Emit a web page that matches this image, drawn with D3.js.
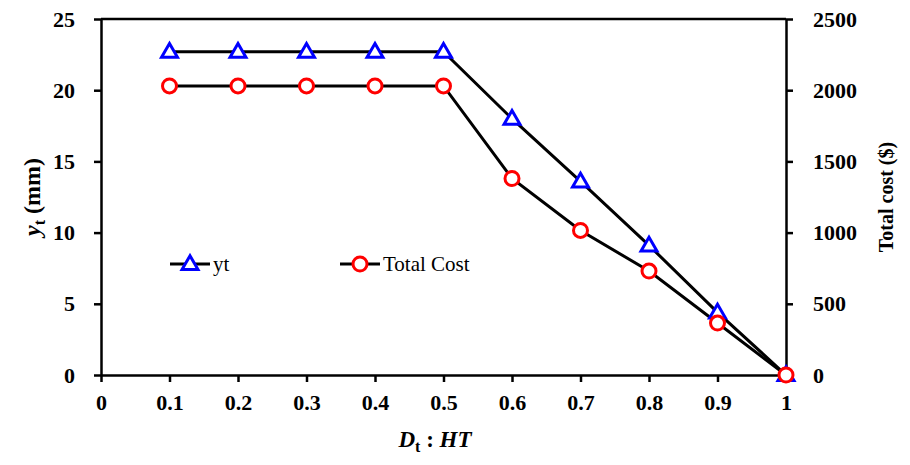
<!DOCTYPE html>
<html>
<head>
<meta charset="utf-8">
<script src="https://cdn.jsdelivr.net/npm/d3@7"></script>
<style>
body { margin: 0; background: #fff; }
svg text { font-family: "Liberation Serif", "Times New Roman", serif !important; }
</style>
</head>
<body>
<svg width="910" height="465"></svg>
<script>
var ratio = [0.1, 0.2, 0.3, 0.4, 0.5, 0.6, 0.7, 0.8, 0.9, 1];
var yt = [22.7, 22.7, 22.7, 22.7, 22.7, 18.0, 13.6, 9.1, 4.4, 0];
var totalCost = [2030, 2030, 2030, 2030, 2030, 1380, 1015, 730, 365, 0];
var xTicks = [0, 0.1, 0.2, 0.3, 0.4, 0.5, 0.6, 0.7, 0.8, 0.9, 1];
var yTicks = [0, 5, 10, 15, 20, 25];
var costTicks = [0, 500, 1000, 1500, 2000, 2500];

var svg = d3.select('svg');
var plotLeft = 101, plotRight = 786, plotTop = 19, plotBottom = 375;

var x = d3.scaleLinear().domain([0, 1]).range([plotLeft, plotRight]);
var y = d3.scaleLinear().domain([0, 25]).range([plotBottom, plotTop]);
var y2 = d3.scaleLinear().domain([0, 2500]).range([plotBottom, plotTop]);

function styleAxis(g) {
    g.attr('font-family', '"Liberation Serif", serif');
    g.selectAll('path, line').attr('stroke', '#000').attr('stroke-width', 2.5);
    g.selectAll('text').attr('font-size', 22).attr('font-weight', 'bold').attr('fill', '#000')
        .style('font-family', '"Liberation Serif", serif');
}

svg.append('g').attr('transform', 'translate(0,' + plotBottom + ')')
    .call(d3.axisBottom(x).tickValues(xTicks).tickFormat(d3.format('')).tickSize(7).tickSizeOuter(0).tickPadding(12))
    .call(styleAxis);
svg.append('g').attr('transform', 'translate(' + plotLeft + ',0)')
    .call(d3.axisLeft(y).tickValues(yTicks).tickSize(7).tickSizeOuter(0).tickPadding(19))
    .call(styleAxis);
svg.append('g').attr('transform', 'translate(' + plotRight + ',0)')
    .call(d3.axisRight(y2).tickValues(costTicks).tickFormat(d3.format('')).tickSize(7).tickSizeOuter(0).tickPadding(20))
    .call(styleAxis);
svg.append('line').attr('x1', plotLeft).attr('x2', plotRight).attr('y1', plotTop).attr('y2', plotTop)
    .attr('stroke', '#000').attr('stroke-width', 2.5);

var lineYt = d3.line().x(function (d, i) { return x(ratio[i]); }).y(function (d) { return y(d); });
var lineCost = d3.line().x(function (d, i) { return x(ratio[i]); }).y(function (d) { return y2(d); });

svg.append('path').datum(yt).attr('d', lineYt).attr('fill', 'none').attr('stroke', '#000').attr('stroke-width', 3);
svg.append('path').datum(totalCost).attr('d', lineCost).attr('fill', 'none').attr('stroke', '#000').attr('stroke-width', 3);

var tri = d3.symbol().type(d3.symbolTriangle).size(110);
function triangle(sel) {
    sel.attr('d', tri).attr('fill', '#fff').attr('stroke', '#0000ff').attr('stroke-width', 3);
}
function circle(sel) {
    sel.attr('r', 7).attr('fill', '#fff').attr('stroke', '#ff0000').attr('stroke-width', 3);
}

svg.selectAll('.tri').data(yt).enter().append('path').attr('class', 'tri')
    .attr('transform', function (d, i) { return 'translate(' + x(ratio[i]) + ',' + (y(d) + 1) + ')'; })
    .call(triangle);
svg.selectAll('.circ').data(totalCost).enter().append('circle').attr('class', 'circ')
    .attr('cx', function (d, i) { return x(ratio[i]); })
    .attr('cy', function (d) { return y2(d); })
    .call(circle);

// legend
var lg = svg.append('g');
lg.append('line').attr('x1', 170).attr('x2', 210).attr('y1', 264).attr('y2', 264).attr('stroke', '#000').attr('stroke-width', 3);
lg.append('path').attr('transform', 'translate(190,265)').call(triangle);
lg.append('text').attr('x', 213).attr('y', 271).attr('font-size', 21).text('yt');
lg.append('line').attr('x1', 340).attr('x2', 380).attr('y1', 264).attr('y2', 264).attr('stroke', '#000').attr('stroke-width', 3);
lg.append('circle').attr('cx', 360).attr('cy', 264).call(circle);
lg.append('text').attr('x', 383).attr('y', 271).attr('font-size', 21).text('Total Cost');

// axis titles
var xt = svg.append('text').attr('x', 435).attr('y', 447).attr('text-anchor', 'middle')
    .attr('font-size', 23).attr('font-weight', 'bold');
xt.append('tspan').attr('font-style', 'italic').text('D');
xt.append('tspan').attr('font-size', 16).attr('dy', 5).text('t');
xt.append('tspan').attr('dy', -5).text(' : ');
xt.append('tspan').attr('font-style', 'italic').text('HT');

var ylt = svg.append('text').attr('transform', 'translate(40,197) rotate(-90)')
    .attr('text-anchor', 'middle').attr('font-size', 24).attr('font-weight', 'bold');
ylt.append('tspan').attr('font-style', 'italic').text('y');
ylt.append('tspan').attr('font-size', 16).attr('dy', 5).text('t');
ylt.append('tspan').attr('dy', -5).text(' (mm)');

svg.append('text').attr('transform', 'translate(893,197) rotate(-90)')
    .attr('text-anchor', 'middle').attr('font-size', 20).attr('font-weight', 'bold')
    .text('Total cost ($)');
</script>
</body>
</html>
